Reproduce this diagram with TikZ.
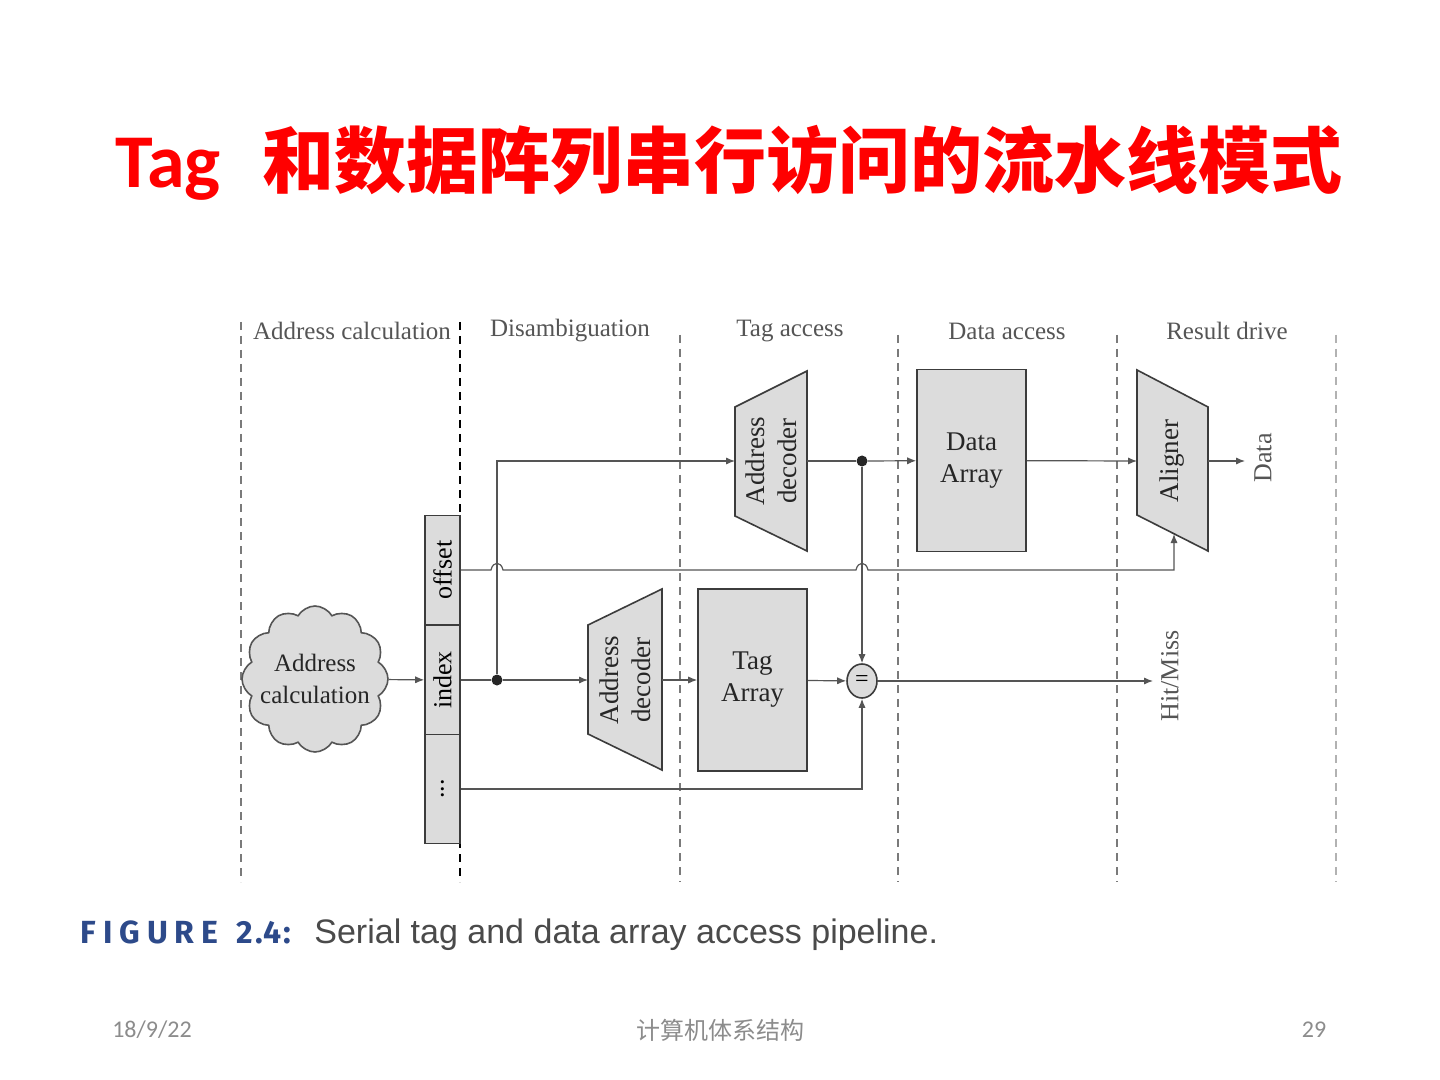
\documentclass[tikz,border=0pt]{standalone}
\usepackage{fontspec}
\usepackage{graphicx}
\setmainfont{Liberation Serif}
\newfontfamily\cjk{Noto Sans CJK SC}
\newfontfamily\capsans{Liberation Sans}
\newfontfamily\calib{Carlito}
\newfontfamily\figfont[LetterSpace=22]{Fira Sans}
\newfontfamily\fignum[LetterSpace=6]{Fira Sans}
\usetikzlibrary{arrows.meta,shapes.symbols,shapes.geometric}
\definecolor{boxfill}{HTML}{DCDCDC}
\definecolor{boxline}{HTML}{3C3C3C}
\definecolor{wire}{HTML}{555555}
\definecolor{stagegray}{HTML}{7A7A7A}
\definecolor{labgray}{HTML}{555555}
\definecolor{figblue}{HTML}{2D4A8A}
\definecolor{capgray}{HTML}{4A4A4A}
\definecolor{footgray}{HTML}{8C8C8C}
\definecolor{titlered}{HTML}{FF0000}
\tikzset{
 lbl/.style={text=labgray, font=\fontsize{12.5}{14}\selectfont, inner sep=0},
 boxtxt/.style={font=\fontsize{13.5}{16}\selectfont, align=center, text=black!85, inner sep=0},
 gbox/.style={draw=boxline, fill=boxfill, line width=0.8pt},
 conn/.style={draw=wire, line width=0.6pt, -{Latex[length=4.5pt,width=3.6pt]}},
 wireline/.style={draw=wire, line width=0.6pt},
 junction/.style={circle, fill=black!85, inner sep=0, minimum size=5.5pt},
 stage/.style={draw=stagegray, line width=0.6pt, dash pattern=on 4pt off 3pt},
 field/.style={gbox, minimum width=17.5pt, minimum height=54.5pt, inner sep=0, font=\fontsize{13}{15}\selectfont},
}
\begin{document}
\begin{tikzpicture}[x=0.5pt,y=-0.5pt]
\path[use as bounding box, fill=white] (0,0) rectangle (1440,1080);

% title
\node[anchor=base west, inner sep=0, text=titlered] (title) at (115,188)
  {{\calib\bfseries\fontsize{38}{42}\selectfont Tag}\hspace{21pt}{\cjk\bfseries\fontsize{36}{40}\selectfont 和数据阵列串行访问的流水线模式}};

% stage separators
\draw[stage] (241,322) -- (241,882);
\draw[stage, draw=black] (460,322) -- (460,882);
\draw[stage] (680,335) -- (680,882);
\draw[stage] (898,335) -- (898,882);
\draw[stage] (1117,335) -- (1117,882);
\draw[stage, draw=black!30] (1336,335) -- (1336,882);

% stage labels
\node[lbl] (s1) at (352,331) {Address calculation};
\node[lbl] (s2) at (570,331) {Disambiguation};
\node[lbl] (s3) at (790,331) {Tag access};
\node[lbl] (s4) at (1007,331) {Data access};
\node[lbl] (s5) at (1227,331) {Result drive};

% address fields
\node[field] (offset) at (442.5,570) {\rotatebox{90}{offset}};
\node[field] (index) at (442.5,680) {\rotatebox{90}{index}};
\node[field] (dots) at (442.5,789) {\rotatebox{90}{...}};

% cloud
\node[cloud, cloud puffs=12, cloud puff arc=120, aspect=1, gbox, draw=wire, minimum width=73pt, minimum height=73pt, inner sep=0,
      label={[boxtxt, font=\fontsize{12.5}{16}\selectfont]center:Address\\calculation}] (cloud) at (315,679) {};

% decoders
\draw[gbox] (735,407) -- (807,371) -- (807,551) -- (735,516) -- cycle;
\node[boxtxt, rotate=90] (dec1) at (771,461) {Address\\decoder};
\coordinate (dec1in) at (735,461);
\coordinate (dec1out) at (807,461);
\draw[gbox] (588,625) -- (662,589) -- (662,770) -- (588,734) -- cycle;
\node[boxtxt, rotate=90] (dec2) at (625,680) {Address\\decoder};
\coordinate (dec2in) at (588,680);
\coordinate (dec2out) at (662,680);

% arrays
\node[gbox, boxtxt, minimum width=54.5pt, minimum height=91pt] (tarray) at (752.5,680) {Tag\\Array};
\node[gbox, boxtxt, minimum width=54.5pt, minimum height=91pt] (darray) at (971.5,460.5) {Data\\Array};

% aligner
\draw[gbox] (1137,370) -- (1208,407) -- (1208,551) -- (1137,515) -- cycle;
\node[boxtxt, rotate=90] (align) at (1172,461) {Aligner};
\coordinate (alin) at (1137,461);
\coordinate (alout) at (1208,461);
\coordinate (albot) at (1174,534);

% comparator
\node[ellipse, gbox, minimum width=15pt, minimum height=17pt, inner sep=0, font=\fontsize{12}{12}\selectfont] (eq) at (862,681) {=};

% junctions
\node[junction] (j1) at (497,680) {};
\node[junction] (j2) at (862,461) {};

% outputs
\coordinate (dataout) at (1245,461);
\coordinate (hmout) at (1153,681);
\node[lbl, rotate=90, font=\fontsize{13}{15}\selectfont] (datalbl) at (1263,458) {Data};
\node[lbl, rotate=90, font=\fontsize{13}{15}\selectfont] (hmlbl) at (1170,676) {Hit/Miss};

% connectors
\draw[conn] (cloud) -- (index);
\draw[wireline] (index) -- (j1);
\draw[conn] (j1) -- (dec2in);
\draw[conn] (j1) |- (dec1in);
\draw[wireline] (dec1out) -- (j2);
\draw[conn] (j2) -- (darray);
\draw[conn] (j2) -- (eq);
\draw[conn] (dec2out) -- (tarray);
\draw[conn] (tarray) -- (eq);
\draw[conn] (darray) -- (alin);
\draw[conn] (alout) -- (dataout);
\draw[conn] (eq) -- (hmout);
\draw[conn] (dots) -| (eq);
\draw[conn] (offset) -- (491,570) .. controls (493,561) and (501,561) .. (503,570)
   -- (856,570) .. controls (858,561) and (866,561) .. (868,570) -- (1174,570) -- (albot);

% caption
\node[anchor=base west, inner sep=0, text=figblue, font=\bfseries\fontsize{16}{18}\selectfont] (figno) at (80,943) {{\figfont\bfseries FIGURE}\hspace{9pt}{\fignum\bfseries 2.4:}};
\node[anchor=base west, inner sep=0, text=capgray, font=\capsans\fontsize{17}{19}\selectfont] (caption) at (314,943) {Serial tag and data array access pipeline.};

% footer
\node[text=footgray, font=\calib\fontsize{12}{14}\selectfont, inner sep=0] (date) at (152,1030) {18/9/22};
\node[text=footgray, font=\cjk\fontsize{12}{14}\selectfont, inner sep=0] (course) at (720,1030) {计算机体系结构};
\node[text=footgray, font=\calib\fontsize{12}{14}\selectfont, inner sep=0] (page) at (1314,1030) {29};
\end{tikzpicture}
\end{document}
